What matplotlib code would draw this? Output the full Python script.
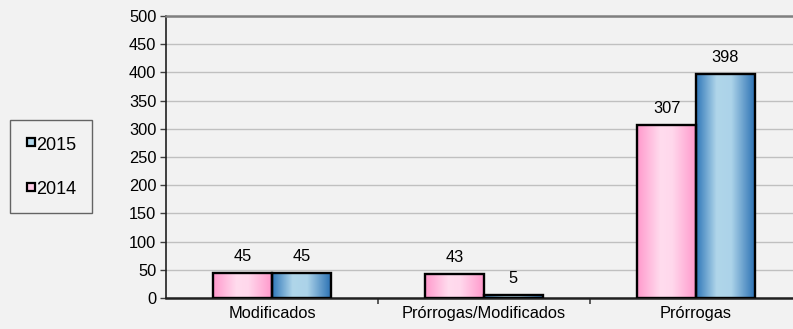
import numpy as np
import matplotlib
matplotlib.use('Agg')
import matplotlib.pyplot as plt
from matplotlib.colors import LinearSegmentedColormap
from matplotlib.lines import Line2D

plt.rcParams['font.family'] = ['Liberation Sans', 'DejaVu Sans']

categories = ['Modificados', 'Prórrogas/Modificados', 'Prórrogas']
series_2014 = [45, 43, 307]
series_2015 = [45, 5, 398]
y_ticks = [0, 50, 100, 150, 200, 250, 300, 350, 400, 450, 500]

bg = '#f2f2f2'
pink_cmap = LinearSegmentedColormap.from_list('pink', [(0, '#ff99cc'), (0.4, '#ffdcee'), (0.6, '#ffd8ec'), (1, '#ff99cc')])
blue_cmap = LinearSegmentedColormap.from_list('blue', [(0, '#2f77b9'), (0.35, '#b0d6ea'), (0.6, '#acd3e9'), (1, '#2c72b4')])

fig = plt.figure(figsize=(7.93, 3.29), dpi=100, facecolor=bg)
ax = fig.add_axes([166 / 793, 31 / 329, (793 - 166) / 793, 282 / 329])
ax.set_facecolor(bg)

x = np.arange(len(categories))
w = 0.276
bars14 = ax.bar(x - w / 2, series_2014, w, facecolor='none', edgecolor='black', linewidth=1.7, zorder=3)
bars15 = ax.bar(x + w / 2, series_2015, w, facecolor='none', edgecolor='black', linewidth=1.7, zorder=3)

# gradient fill clipped to each bar
grad = np.linspace(0, 1, 256).reshape(1, -1)
for bars, cmap in [(bars14, pink_cmap), (bars15, blue_cmap)]:
    for b in bars:
        x0 = b.get_x()
        im = ax.imshow(grad, cmap=cmap, extent=[x0, x0 + b.get_width(), 0, b.get_height()],
                       aspect='auto', zorder=2, interpolation='bilinear')
        im.set_clip_path(b)

# value labels
for bars in [bars14, bars15]:
    for b in bars:
        ax.annotate(str(int(b.get_height())), (b.get_x() + b.get_width() / 2, b.get_height()),
                    xytext=(0, 6.5), textcoords='offset points', ha='center', va='bottom', fontsize=11.8)

ax.set_xlim(-0.5, -0.5 + (793 - 166) / 212)
ax.set_ylim(0, 500)
ax.set_yticks(y_ticks)
ax.set_xticks(x)
ax.set_xticklabels(categories, fontsize=11.8)
ax.set_xticks([0.5, 1.5], minor=True)
ax.tick_params(axis='x', which='major', length=0, pad=6)
ax.tick_params(axis='x', which='minor', length=4, width=1.2, color='#404040')
ax.tick_params(axis='y', length=4, width=1, color='#404040', labelsize=11.8, pad=3)

ax.grid(axis='y', color='#c0c0c0', linewidth=1)
ax.set_axisbelow(True)
ax.spines['right'].set_visible(False)
ax.spines['top'].set_color('#808080')
ax.spines['top'].set_linewidth(1.8)
ax.spines['left'].set_color('#202020')
ax.spines['left'].set_linewidth(1.2)
ax.spines['bottom'].set_color('#202020')
ax.spines['bottom'].set_linewidth(1.8)

handles = [Line2D([], [], linestyle='none', marker='s', markersize=6, markerfacecolor='#b0d6ea',
                  markeredgecolor='black', markeredgewidth=1.6),
           Line2D([], [], linestyle='none', marker='s', markersize=6, markerfacecolor='#ffcce6',
                  markeredgecolor='black', markeredgewidth=1.6)]
leg = fig.legend(handles, ['2015', '2014'], loc='upper left', bbox_to_anchor=(10 / 793, 1 - 120 / 329),
                 borderaxespad=0, fancybox=False, frameon=True, edgecolor='#404040', facecolor=bg,
                 fontsize=13, handlelength=0.62, handleheight=1.0, handletextpad=0.0,
                 labelspacing=1.45, borderpad=0.85)
leg.get_frame().set_linewidth(1)

fig.savefig('out.png', dpi=100, facecolor=bg)
